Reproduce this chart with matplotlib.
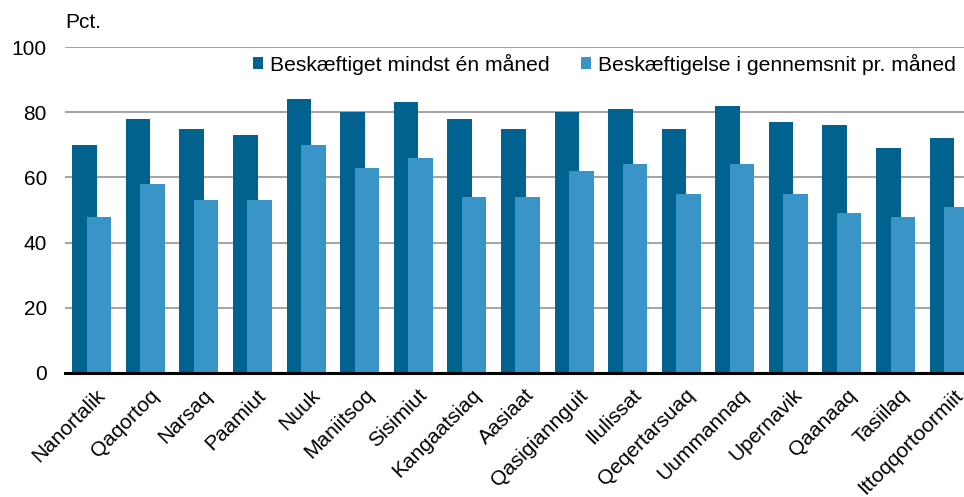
import matplotlib.pyplot as plt
import matplotlib.transforms as mtransforms
import numpy as np

plt.rcParams['font.family'] = ['Liberation Sans', 'DejaVu Sans']

# data
byer = ["Nanortalik", "Qaqortoq", "Narsaq", "Paamiut", "Nuuk", "Maniitsoq",
        "Sisimiut", "Kangaatsiaq", "Aasiaat", "Qasigiannguit", "Ilulissat",
        "Qeqertarsuaq", "Uummannaq", "Upernavik", "Qaanaaq", "Tasiilaq",
        "Ittoqqortoormiit"]
mindst_en = [70, 78, 75, 73, 84, 80, 83, 78, 75, 80, 81, 75, 82, 77, 76, 69, 72]
gennemsnit = [48, 58, 53, 53, 70, 63, 66, 54, 54, 62, 64, 55, 64, 55, 49, 48, 51]
serie_navne = ["Beskæftiget mindst én måned",
               "Beskæftigelse i gennemsnit pr. måned"]

mork = "#02628f"
lys = "#3994c8"

fig = plt.figure(figsize=(9.64, 4.97), dpi=100)
ax = fig.add_axes([0.0674, 0.2495, 0.945, 0.6559])

x = np.arange(len(byer))
b = 0.458
ax.bar(x - 0.135, mindst_en, width=b, color=mork, label=serie_navne[0], zorder=2)
ax.bar(x + 0.135, gennemsnit, width=b, color=lys, label=serie_navne[1], zorder=3)

ax.set_xlim(-0.5, len(byer) - 0.5)
ax.set_ylim(0, 100)
ax.set_yticks([0, 20, 40, 60, 80, 100])
ax.yaxis.grid(True, color="#a6a6a6", linewidth=1.5, zorder=0)
ax.set_axisbelow(True)
for s in ["left", "right", "top"]:
    ax.spines[s].set_visible(False)
ax.spines["bottom"].set_linewidth(2.2)
ax.spines["bottom"].set_color("black")
ax.spines["bottom"].set_zorder(5)
ax.tick_params(axis="y", length=0, pad=13, labelsize=15)
ax.tick_params(axis="x", length=0, pad=9)
ax.set_xticks(x)
ax.set_xticklabels(byer, rotation=45, ha="right", va="top",
                   rotation_mode="anchor", fontsize=15)
skift = mtransforms.ScaledTranslation(4 / 100, 0, fig.dpi_scale_trans)
for lab in ax.get_xticklabels():
    lab.set_transform(lab.get_transform() + skift)

ax.text(0, 1.045, "Pct.", transform=ax.transAxes, fontsize=15,
        ha="left", va="bottom")

ax.legend(loc="upper right", bbox_to_anchor=(0.987, 1.005), ncol=2,
          frameon=False, fontsize=15.2, handlelength=0.5, handleheight=0.5,
          handletextpad=0.3, columnspacing=1.5, borderaxespad=0)

plt.savefig("out.png", dpi=100)
